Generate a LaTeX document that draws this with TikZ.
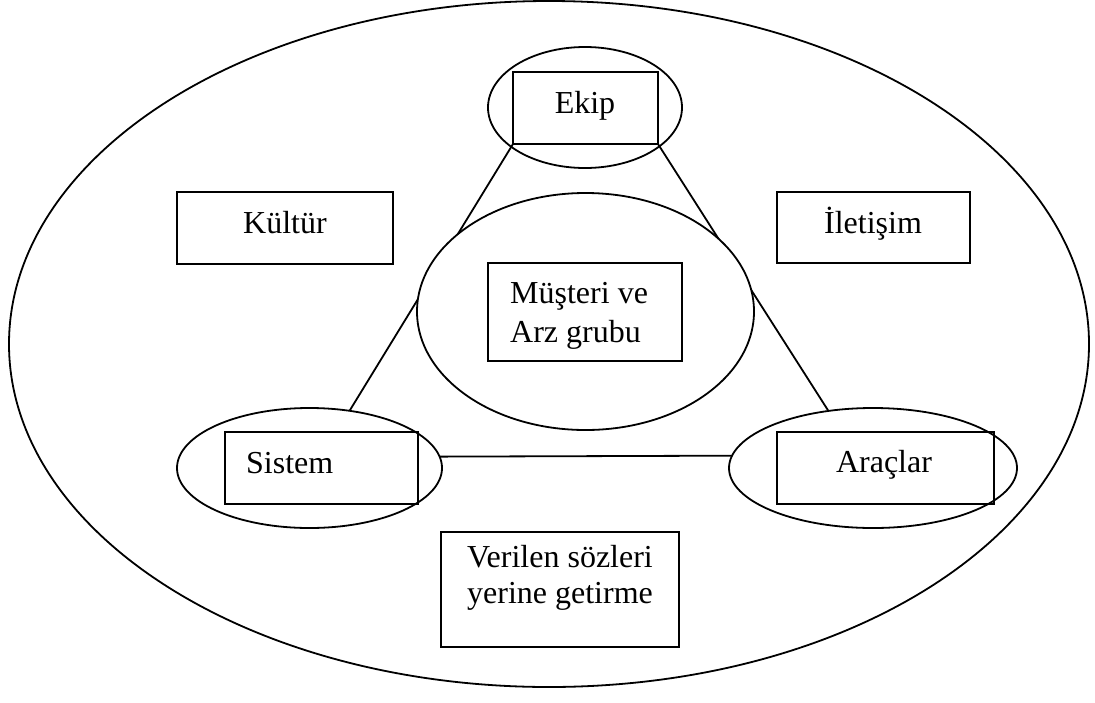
\documentclass[tikz,border=0pt]{standalone}
\usepackage{fontspec}
\setmainfont{Liberation Serif}
\usetikzlibrary{shapes.geometric}
\begin{document}
\begin{tikzpicture}[x=1pt,y=-1pt,
  lw/.style={line width=1.8pt},
  ell/.style={lw,draw,ellipse,inner sep=0pt,outer sep=0pt},
  box/.style={lw,draw,rectangle,inner sep=0pt,outer sep=0pt},
  txt/.style={inner sep=0pt,anchor=base,font=\fontsize{32}{37}\selectfont},
  txtl/.style={txt,anchor=base west}]
\useasboundingbox (0,0) rectangle (1095,702);
% outer ellipse
\node[ell,minimum width=1080pt,minimum height=686pt] (outer) at (549,344) {};
% small ellipses
\node[ell,minimum width=194pt,minimum height=121pt] (ekipell) at (585,107.5) {};
\node[ell,minimum width=265pt,minimum height=120pt] (sisell) at (309.5,468) {};
\node[ell,minimum width=288pt,minimum height=120pt] (araell) at (873,468) {};
% boxes
\node[box,minimum width=145pt,minimum height=72pt] (ekipbox) at (585.5,108) {};
\node[box,minimum width=193pt,minimum height=72pt] (sisbox) at (321.5,468) {};
\node[box,minimum width=217pt,minimum height=72pt] (arabox) at (885.5,468) {};
% connectors
\draw[lw] (ekipbox.south west) -- (sisell.55);
\draw[lw] (ekipbox.south east) -- (araell.128);
\draw[lw] (sisell.5) -- (araell.175);
% central ellipse (covers the connectors)
\node[ell,fill=white,minimum width=337pt,minimum height=237pt] (center) at (585.5,311.5) {};
\node[box,minimum width=194pt,minimum height=98pt] (centerbox) at (585,312) {};
% other boxes
\node[box,minimum width=216pt,minimum height=72pt] (kulbox) at (285,228) {};
\node[box,minimum width=193pt,minimum height=71pt] (iletbox) at (873.5,227.5) {};
\node[box,minimum width=238pt,minimum height=115pt] (verbox) at (560,589.5) {};
% texts
\node[txt] (ekiptext) at (585,113) {Ekip};
\node[txtl] (sistext) at (246,473) {Sistem};
\node[txt] (aratext) at (884,472) {Araçlar};
\node[txtl] (centext1) at (510,303) {Müşteri ve};
\node[txtl] (centext2) at (510,342) {Arz grubu};
\node[txt] (kultext) at (285,233) {Kültür};
\node[txt] (ilettext) at (873,233) {İletişim};
\node[txt] (vertext1) at (560,567) {Verilen sözleri};
\node[txt] (vertext2) at (560,603) {yerine getirme};
\end{tikzpicture}
\end{document}
